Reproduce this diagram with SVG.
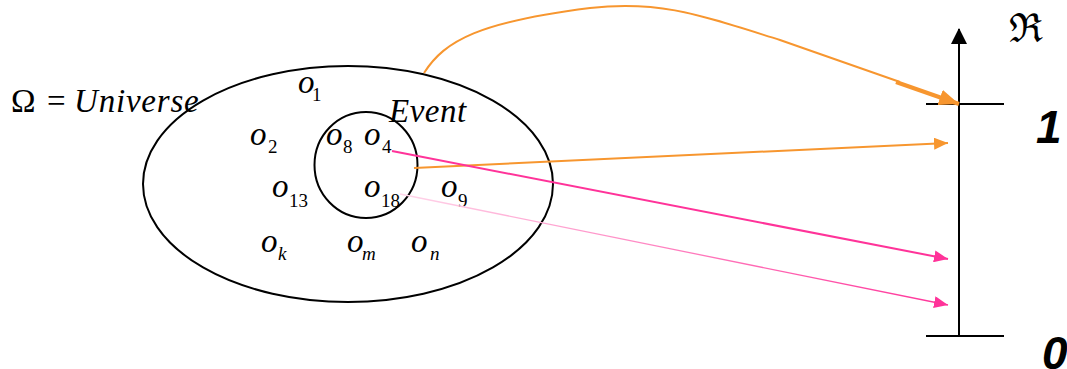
<svg xmlns="http://www.w3.org/2000/svg" width="1067" height="369" viewBox="0 0 1067 369">
<style>
.o{font-family:"Liberation Serif",serif;font-style:italic;font-size:33px;fill:#000}
.s{font-family:"Liberation Serif",serif;font-size:19px;fill:#000}
.si{font-family:"Liberation Serif",serif;font-style:italic;font-size:19px;fill:#000}
.big{font-family:"Liberation Serif",serif;font-size:33px;fill:#000}
.num{font-family:"Liberation Sans",sans-serif;font-weight:bold;font-style:italic;font-size:46px;fill:#000}
.ln{fill:none;stroke:#000;stroke-width:2}
.or{fill:none;stroke:#F7962F;stroke-width:2}
.pk{fill:none;stroke:#FF3399;stroke-width:2}
</style>
<defs>
<marker id="ao" markerWidth="14" markerHeight="12" refX="14" refY="6" orient="auto" markerUnits="userSpaceOnUse"><path d="M0,0 L14,6 L0,12 Z" fill="#F7962F"/></marker>
<marker id="ao2" markerWidth="20" markerHeight="16" refX="20" refY="8" orient="auto" markerUnits="userSpaceOnUse"><path d="M0,0 L20,8 L0,16 Z" fill="#F7962F"/></marker>
<marker id="ap" markerWidth="14" markerHeight="12" refX="14" refY="6" orient="auto" markerUnits="userSpaceOnUse"><path d="M0,0 L14,6 L0,12 Z" fill="#FF3399"/></marker>
<marker id="ak" markerWidth="16" markerHeight="16" refX="15" refY="8" orient="auto" markerUnits="userSpaceOnUse"><path d="M0,0 L16,8 L0,16 Z" fill="#000"/></marker>
<linearGradient id="fade" x1="400" y1="194" x2="948" y2="305" gradientUnits="userSpaceOnUse"><stop offset="0" stop-color="#FFD6EA"/><stop offset="0.5" stop-color="#FF7FBF"/><stop offset="1" stop-color="#FF3399"/></linearGradient>
</defs>
<g id="universe">
<ellipse class="ln" cx="348" cy="184" rx="205" ry="118"/>
<text y="112" class="big"><tspan x="11">Ω</tspan><tspan x="47">=</tspan><tspan x="74" font-style="italic" letter-spacing="0.8">Universe</tspan></text>
</g>
<g id="event">
<ellipse class="ln" cx="366" cy="165" rx="51.5" ry="53"/>
<text x="389" y="122" class="o" font-size="35" letter-spacing="0.5">Event</text>
</g>
<g id="objects">
<text x="298" y="93" class="o">o</text><text x="312" y="101" class="s">1</text>
<text x="250" y="145" class="o">o</text><text x="268" y="153" class="s">2</text>
<text x="326" y="145" class="o">o</text><text x="343" y="153" class="s">8</text>
<text x="364" y="145" class="o">o</text><text x="382" y="153" class="s">4</text>
<text x="272" y="197" class="o">o</text><text x="289" y="207" class="s">13</text>
<text x="364" y="197" class="o">o</text><text x="381" y="207" class="s">18</text>
<text x="441" y="197" class="o">o</text><text x="458" y="207" class="s">9</text>
<text x="261" y="252" class="o">o</text><text x="278" y="260" class="si">k</text>
<text x="347" y="252" class="o">o</text><text x="362" y="260" class="si">m</text>
<text x="411" y="252" class="o">o</text><text x="430" y="260" class="si">n</text>
</g>
<g id="axis">
<line class="ln" x1="959" y1="337" x2="959" y2="29" marker-end="url(#ak)"/>
<line class="ln" x1="926" y1="104" x2="1004" y2="104"/>
<line class="ln" x1="926" y1="336" x2="1004" y2="336"/>
<text x="1009" y="42" font-family="DejaVu Serif,serif" font-size="40">ℜ</text>
<text x="1036" y="143" class="num">1</text>
<text x="1042" y="369" class="num">0</text>
</g>
<g id="connectors">
<path class="or" d="M424,73 C445,40 480,22 590,8 C660,0 700,15 780,40 L900,82"/>
<line x1="896" y1="82" x2="959" y2="104" stroke="#F7962F" stroke-width="4" marker-end="url(#ao2)"/>
<line class="or" x1="414" y1="168" x2="948" y2="143" marker-end="url(#ao)"/>
<line class="pk" x1="392" y1="151" x2="948" y2="259" marker-end="url(#ap)"/>
<line x1="400" y1="194" x2="948" y2="305" stroke="url(#fade)" stroke-width="1.3" marker-end="url(#ap)"/>
</g>
</svg>
